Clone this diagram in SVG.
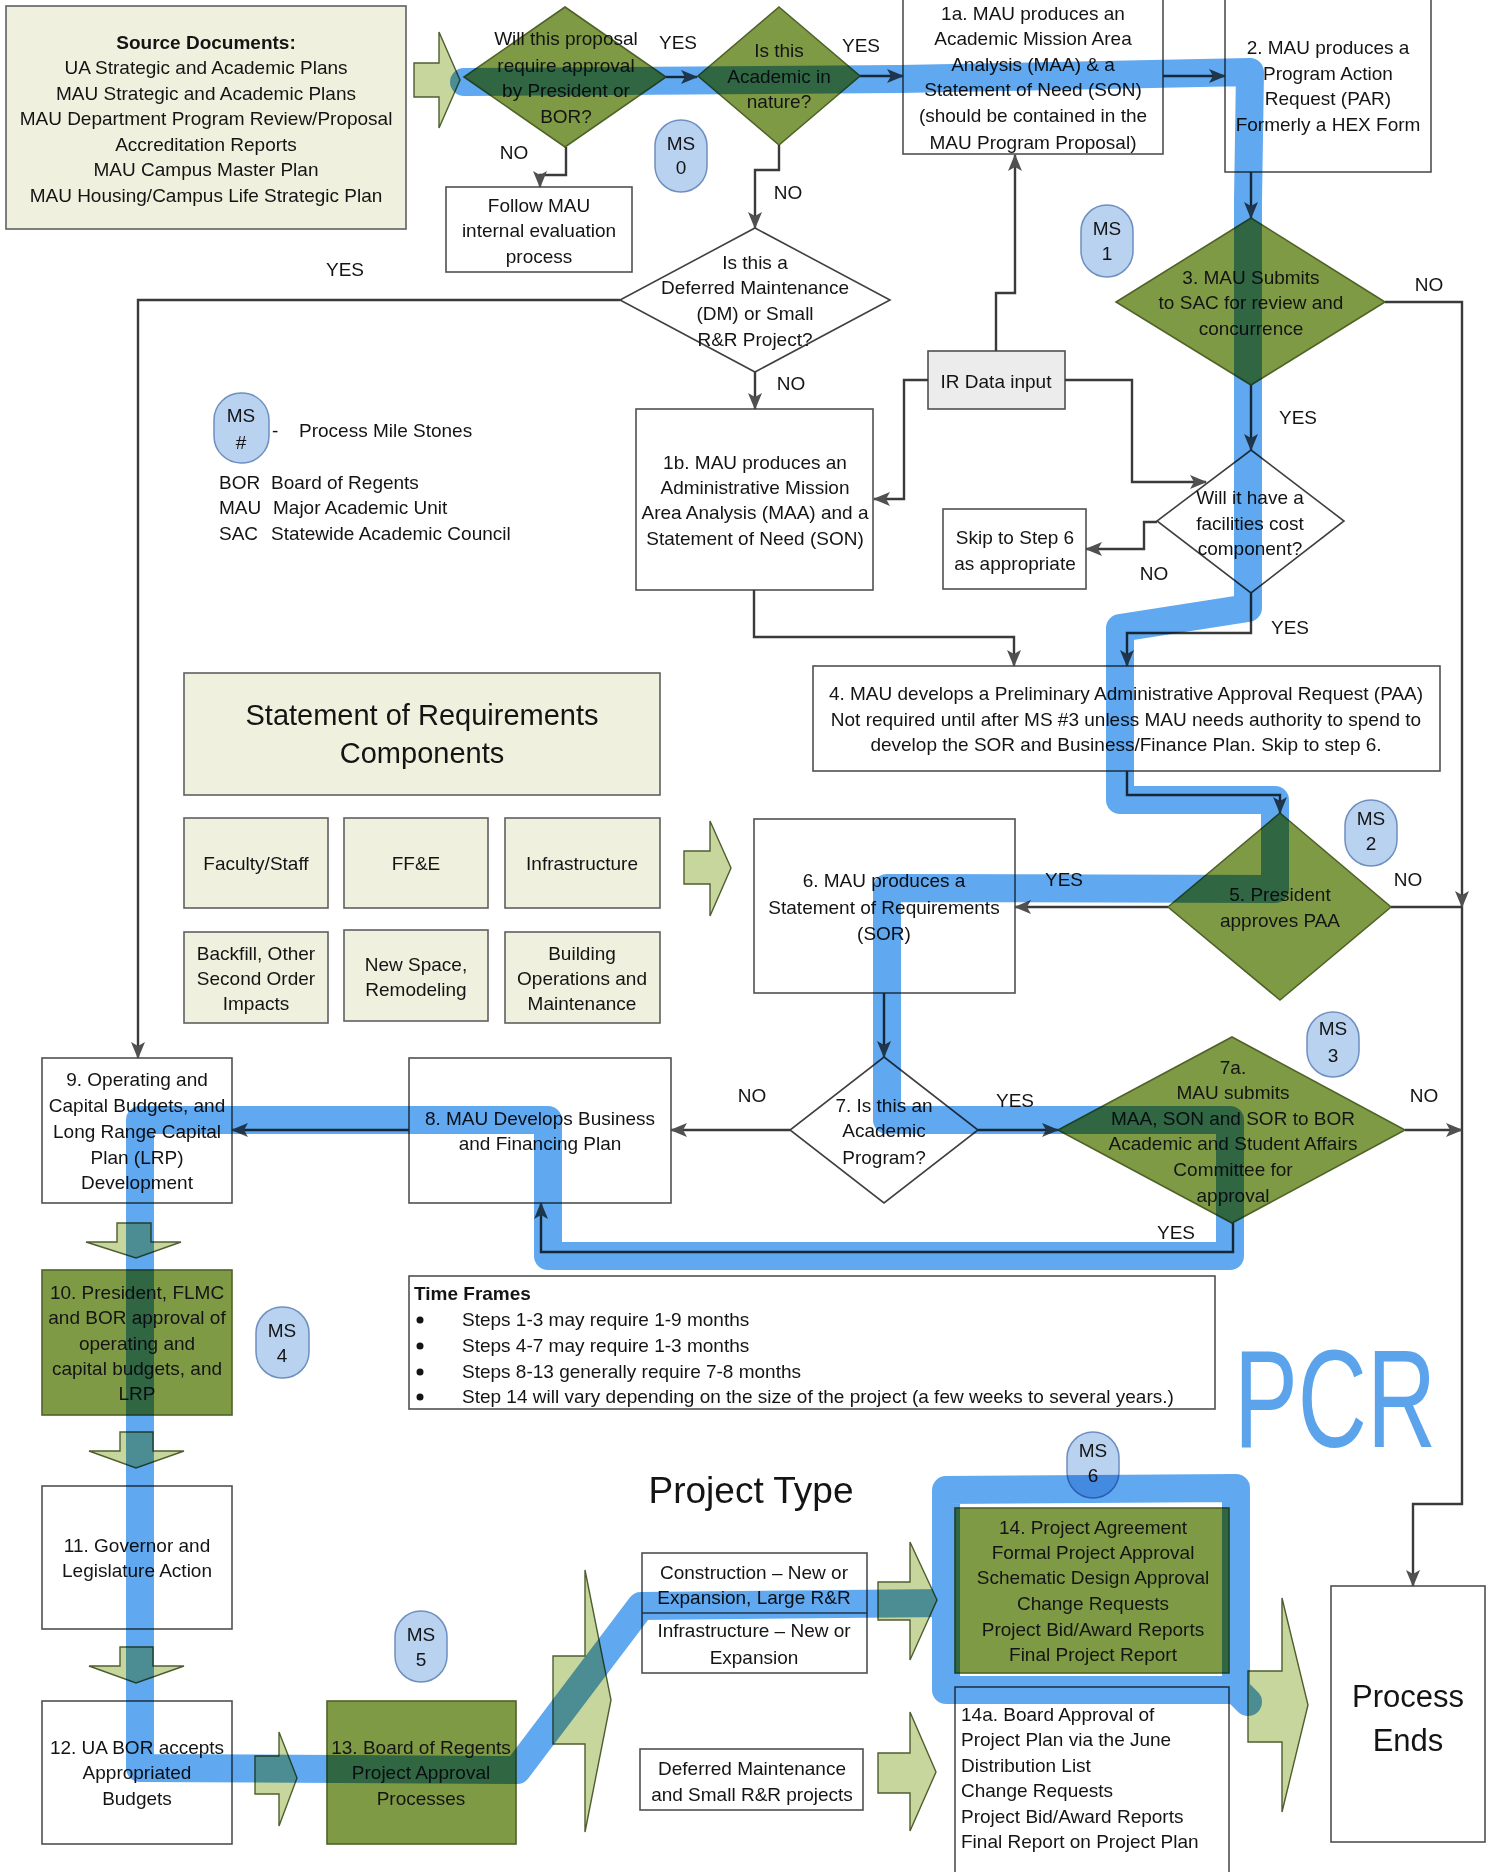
<svg xmlns="http://www.w3.org/2000/svg" width="1496" height="1872" viewBox="0 0 1496 1872">
<defs>
<style>
.t{font-family:"Liberation Sans",Arial,sans-serif;font-size:19px;fill:#141414;text-anchor:middle}
.tl{font-family:"Liberation Sans",Arial,sans-serif;font-size:19px;fill:#141414;text-anchor:start}
.lbl{font-family:"Liberation Sans",Arial,sans-serif;font-size:19px;fill:#141414;text-anchor:middle}
.big{font-family:"Liberation Sans",Arial,sans-serif;font-size:29px;fill:#141414;text-anchor:middle}
.box{fill:#ffffff;stroke:#505050;stroke-width:1.6}
.gray{fill:#ececec;stroke:#505050;stroke-width:1.6}
.beige{fill:#eff0dd;stroke:#606060;stroke-width:1.6}
.olive{fill:#7f9a45;stroke:#4f6228;stroke-width:1.6}
.wd{fill:#ffffff;stroke:#404040;stroke-width:1.6}
.pill{fill:#b8d2f0;stroke:#6f8fbf;stroke-width:1.5}
.ga{fill:#c6d69c;stroke:#4f5e30;stroke-width:1.4}
.c{fill:none;stroke:#3a3a3a;stroke-width:2.4}
.hl{fill:none;stroke:#3d95ec;stroke-width:28;stroke-linejoin:round;stroke-linecap:round}
</style>
<marker id="ah" markerWidth="18" markerHeight="14" refX="16" refY="7" orient="auto" markerUnits="userSpaceOnUse">
<path d="M0,0 L17,7 L0,14 L4,7 z" fill="#505050"/>
</marker>
</defs>
<rect x="0" y="0" width="1496" height="1872" fill="#ffffff"/>

<!-- Source documents -->
<g id="source-docs">
<rect class="beige" x="6" y="6" width="400" height="223"/>
<text class="t" x="206" y="49" font-weight="bold">Source Documents:</text>
<text class="t" x="206" y="74">UA Strategic and Academic Plans</text>
<text class="t" x="206" y="100">MAU Strategic and Academic Plans</text>
<text class="t" x="206" y="125">MAU Department Program Review/Proposal</text>
<text class="t" x="206" y="151">Accreditation Reports</text>
<text class="t" x="206" y="176">MAU Campus Master Plan</text>
<text class="t" x="206" y="202">MAU Housing/Campus Life Strategic Plan</text>
</g>
<g id="arrow-source">
<polygon class="ga" points="414,63 439,63 439,32 460,80 439,128 439,97 414,97"/>
</g>

<g id="d-approval">
<polygon class="olive" points="565,7 666,77 565,147 464,77"/>
<text class="t" x="566" y="45">Will this proposal</text>
<text class="t" x="566" y="72">require approval</text>
<text class="t" x="566" y="97">by President or</text>
<text class="t" x="566" y="123">BOR?</text>
</g>

<g id="d-academic">
<polygon class="olive" points="779,7 860,76 779,145 698,76"/>
<text class="t" x="779" y="57">Is this</text>
<text class="t" x="779" y="83">Academic in</text>
<text class="t" x="779" y="108">nature?</text>
</g>

<g id="ms0">
<rect class="pill" x="655" y="120" width="52" height="72" rx="26"/>
<text class="t" x="681" y="150">MS</text>
<text class="t" x="681" y="174">0</text>
</g>

<g id="follow-mau">
<rect class="box" x="446" y="187" width="186" height="85"/>
<text class="t" x="539" y="212">Follow MAU</text>
<text class="t" x="539" y="237">internal evaluation</text>
<text class="t" x="539" y="263">process</text>
</g>

<g id="box-1a">
<rect class="box" x="903" y="-2" width="260" height="156"/>
<text class="t" x="1033" y="20">1a.  MAU produces an</text>
<text class="t" x="1033" y="45">Academic Mission Area</text>
<text class="t" x="1033" y="71">Analysis (MAA) &amp; a</text>
<text class="t" x="1033" y="96">Statement of Need (SON)</text>
<text class="t" x="1033" y="122">(should be contained in the</text>
<text class="t" x="1033" y="149">MAU Program Proposal)</text>
</g>

<g id="box-2">
<rect class="box" x="1225" y="-2" width="206" height="174"/>
<text class="t" x="1328" y="54">2.  MAU produces a</text>
<text class="t" x="1328" y="80">Program Action</text>
<text class="t" x="1328" y="105">Request (PAR)</text>
<text class="t" x="1328" y="131">Formerly a HEX Form</text>
</g>

<g id="ms1">
<rect class="pill" x="1081" y="205" width="52" height="72" rx="26"/>
<text class="t" x="1107" y="235">MS</text>
<text class="t" x="1107" y="260">1</text>
</g>

<g id="d-sac">
<polygon class="olive" points="1251,218 1385,302 1251,385 1116,302"/>
<text class="t" x="1251" y="284">3. MAU Submits</text>
<text class="t" x="1251" y="309">to SAC for review and</text>
<text class="t" x="1251" y="335">concurrence</text>
</g>

<g id="d-dm">
<polygon class="wd" points="755,228 890,300 755,372 620,300"/>
<text class="t" x="755" y="269">Is this a</text>
<text class="t" x="755" y="294">Deferred Maintenance</text>
<text class="t" x="755" y="320">(DM) or Small</text>
<text class="t" x="755" y="346">R&amp;R Project?</text>
</g>

<g id="legend">
<rect class="pill" x="214" y="393" width="55" height="70" rx="27"/>
<text class="t" x="241" y="422">MS</text>
<text class="t" x="241" y="449">#</text>
<text class="tl" x="272" y="437">-</text>
<text class="tl" x="299" y="437">Process Mile Stones</text>
<text class="tl" x="219" y="489">BOR</text>
<text class="tl" x="271" y="489">Board of Regents</text>
<text class="tl" x="219" y="514">MAU</text>
<text class="tl" x="273" y="514">Major Academic Unit</text>
<text class="tl" x="219" y="540">SAC</text>
<text class="tl" x="271" y="540">Statewide Academic Council</text>
</g>

<g id="box-1b">
<rect class="box" x="636" y="409" width="237" height="181" fill="#fbfbfb"/>
<text class="t" x="755" y="469">1b.  MAU produces an</text>
<text class="t" x="755" y="494">Administrative Mission</text>
<text class="t" x="755" y="519">Area Analysis (MAA) and a</text>
<text class="t" x="755" y="545">Statement of Need (SON)</text>
</g>

<g id="ir-data">
<rect class="gray" x="928" y="351" width="137" height="58"/>
<text class="t" x="996" y="388">IR Data input</text>
</g>

<g id="d-facilities">
<polygon class="wd" points="1251,450 1344,521 1251,593 1157,521"/>
<text class="t" x="1250" y="504">Will it have a</text>
<text class="t" x="1250" y="530">facilities cost</text>
<text class="t" x="1250" y="555">component?</text>
</g>

<g id="skip6">
<rect class="box" x="943" y="509" width="143" height="80"/>
<text class="t" x="1015" y="544">Skip to Step 6</text>
<text class="t" x="1015" y="570">as appropriate</text>
</g>

<g id="box-4">
<rect class="box" x="813" y="666" width="627" height="105"/>
<text class="t" x="1126" y="700">4. MAU develops a Preliminary Administrative Approval Request (PAA)</text>
<text class="t" x="1126" y="726">Not required until after MS #3 unless MAU needs authority to spend to</text>
<text class="t" x="1126" y="751">develop the SOR and Business/Finance Plan. Skip to step 6.</text>
</g>

<g id="sor-components">
<rect class="beige" x="184" y="673" width="476" height="122"/>
<text class="big" x="422" y="725">Statement of Requirements</text>
<text class="big" x="422" y="763">Components</text>
<rect class="beige" x="184" y="818" width="144" height="90"/>
<text class="t" x="256" y="870">Faculty/Staff</text>
<rect class="beige" x="344" y="818" width="144" height="90"/>
<text class="t" x="416" y="870">FF&amp;E</text>
<rect class="beige" x="505" y="818" width="155" height="90"/>
<text class="t" x="582" y="870">Infrastructure</text>
<rect class="beige" x="184" y="932" width="144" height="91"/>
<text class="t" x="256" y="960">Backfill, Other</text>
<text class="t" x="256" y="985">Second Order</text>
<text class="t" x="256" y="1010">Impacts</text>
<rect class="beige" x="344" y="930" width="144" height="91"/>
<text class="t" x="416" y="971">New Space,</text>
<text class="t" x="416" y="996">Remodeling</text>
<rect class="beige" x="505" y="932" width="155" height="91"/>
<text class="t" x="582" y="960">Building</text>
<text class="t" x="582" y="985">Operations and</text>
<text class="t" x="582" y="1010">Maintenance</text>
<polygon class="ga" points="684,851 710,851 710,821 731,868 710,916 710,884 684,884"/>
</g>

<g id="box-6">
<rect class="box" x="754" y="819" width="261" height="174"/>
<text class="t" x="884" y="887">6.  MAU produces a</text>
<text class="t" x="884" y="914">Statement of Requirements</text>
<text class="t" x="884" y="940">(SOR)</text>
</g>

<g id="d-president">
<polygon class="olive" points="1280,813 1391,907 1280,1000 1168,907"/>
<text class="t" x="1280" y="901">5. President</text>
<text class="t" x="1280" y="927">approves PAA</text>
</g>

<g id="ms2">
<rect class="pill" x="1345" y="800" width="52" height="66" rx="26"/>
<text class="t" x="1371" y="825">MS</text>
<text class="t" x="1371" y="850">2</text>
</g>

<g id="d-academic-program">
<polygon class="wd" points="884,1057 978,1130 884,1203 790,1130"/>
<text class="t" x="884" y="1112">7. Is this an</text>
<text class="t" x="884" y="1137">Academic</text>
<text class="t" x="884" y="1164">Program?</text>
</g>

<g id="d-7a">
<polygon class="olive" points="1232,1037 1405,1130 1232,1223 1058,1130"/>
<text class="t" x="1233" y="1074">7a.</text>
<text class="t" x="1233" y="1099">MAU submits</text>
<text class="t" x="1233" y="1125">MAA, SON and SOR to BOR</text>
<text class="t" x="1233" y="1150">Academic and Student Affairs</text>
<text class="t" x="1233" y="1176">Committee for</text>
<text class="t" x="1233" y="1202">approval</text>
</g>

<g id="ms3">
<rect class="pill" x="1307" y="1012" width="52" height="65" rx="26"/>
<text class="t" x="1333" y="1035">MS</text>
<text class="t" x="1333" y="1062">3</text>
</g>

<g id="box-8">
<rect class="box" x="409" y="1058" width="262" height="145"/>
<text class="t" x="540" y="1125">8. MAU Develops Business</text>
<text class="t" x="540" y="1150">and Financing Plan</text>
</g>

<g id="box-9">
<rect class="box" x="42" y="1058" width="190" height="145"/>
<text class="t" x="137" y="1086">9. Operating and</text>
<text class="t" x="137" y="1112">Capital Budgets, and</text>
<text class="t" x="137" y="1138">Long Range Capital</text>
<text class="t" x="137" y="1164">Plan (LRP)</text>
<text class="t" x="137" y="1189">Development</text>
</g>

<g id="arrow-9-10"><polygon class="ga" points="117,1223 151,1223 151,1242 181,1242 136,1258 86,1242 117,1242"/></g>

<g id="box-10">
<rect class="olive" x="42" y="1270" width="190" height="145"/>
<text class="t" x="137" y="1299">10. President, FLMC</text>
<text class="t" x="137" y="1324">and BOR approval of</text>
<text class="t" x="137" y="1350">operating and</text>
<text class="t" x="137" y="1375">capital budgets, and</text>
<text class="t" x="137" y="1400">LRP</text>
</g>

<g id="ms4">
<rect class="pill" x="256" y="1307" width="53" height="71" rx="26"/>
<text class="t" x="282" y="1337">MS</text>
<text class="t" x="282" y="1362">4</text>
</g>

<g id="arrow-10-11"><polygon class="ga" points="120,1432 153,1432 153,1451 184,1451 136,1468 89,1451 120,1451"/></g>

<g id="box-11">
<rect class="box" x="42" y="1486" width="190" height="143"/>
<text class="t" x="137" y="1552">11. Governor and</text>
<text class="t" x="137" y="1577">Legislature Action</text>
</g>

<g id="arrow-11-12"><polygon class="ga" points="120,1647 153,1647 153,1666 184,1666 136,1683 89,1666 120,1666"/></g>

<g id="box-12">
<rect class="box" x="42" y="1701" width="190" height="143"/>
<text class="t" x="137" y="1754">12. UA BOR accepts</text>
<text class="t" x="137" y="1779">Appropriated</text>
<text class="t" x="137" y="1805">Budgets</text>
</g>

<g id="arrow-12-13"><polygon class="ga" points="255,1756 279,1756 279,1732 297,1778 279,1826 279,1794 255,1794"/></g>

<g id="box-13">
<rect class="olive" x="327" y="1701" width="189" height="143"/>
<text class="t" x="421" y="1754">13. Board of Regents</text>
<text class="t" x="421" y="1779">Project Approval</text>
<text class="t" x="421" y="1805">Processes</text>
</g>

<g id="ms5">
<rect class="pill" x="395" y="1611" width="52" height="71" rx="26"/>
<text class="t" x="421" y="1641">MS</text>
<text class="t" x="421" y="1666">5</text>
</g>

<g id="arrow-13-types"><polygon class="ga" points="553,1656 585,1656 585,1570 611,1700 585,1832 585,1744 553,1744"/></g>

<g id="time-frames">
<rect class="box" x="409" y="1276" width="806" height="133"/>
<text class="tl" x="414" y="1300" font-weight="bold">Time Frames</text>
<circle cx="420" cy="1320" r="3.5" fill="#141414"/>
<circle cx="420" cy="1346" r="3.5" fill="#141414"/>
<circle cx="420" cy="1372" r="3.5" fill="#141414"/>
<circle cx="420" cy="1397" r="3.5" fill="#141414"/>
<text class="tl" x="462" y="1326">Steps 1-3 may require 1-9 months</text>
<text class="tl" x="462" y="1352">Steps 4-7 may require 1-3 months</text>
<text class="tl" x="462" y="1378">Steps 8-13 generally require 7-8 months</text>
<text class="tl" x="462" y="1403">Step 14 will vary depending on the size of the project (a few weeks to several years.)</text>
</g>

<g id="project-type-title">
<text x="751" y="1503" style="font-family:'Liberation Sans',Arial,sans-serif;font-size:37px;fill:#141414;text-anchor:middle">Project Type</text>
</g>

<g id="construction">
<rect class="box" x="642" y="1553" width="225" height="120"/>
<line x1="642" y1="1613" x2="867" y2="1613" stroke="#505050" stroke-width="1.6"/>
<text class="t" x="754" y="1579">Construction – New or</text>
<text class="t" x="754" y="1604">Expansion, Large R&amp;R</text>
<text class="t" x="754" y="1637">Infrastructure – New or</text>
<text class="t" x="754" y="1664">Expansion</text>
</g>

<g id="deferred">
<rect class="box" x="640" y="1749" width="223" height="61"/>
<text class="t" x="752" y="1775">Deferred Maintenance</text>
<text class="t" x="752" y="1801">and Small R&amp;R projects</text>
</g>

<g id="arrow-to-14"><polygon class="ga" points="878,1582 910,1582 910,1542 937,1600 910,1660 910,1620 878,1620"/></g>
<g id="arrow-to-14a"><polygon class="ga" points="878,1753 910,1753 910,1712 936,1772 910,1831 910,1793 878,1793"/></g>

<g id="box-14">
<rect class="olive" x="955" y="1508" width="274" height="165"/>
<text class="t" x="1093" y="1534">14. Project Agreement</text>
<text class="t" x="1093" y="1559">Formal Project Approval</text>
<text class="t" x="1093" y="1584">Schematic Design Approval</text>
<text class="t" x="1093" y="1610">Change Requests</text>
<text class="t" x="1093" y="1636">Project Bid/Award Reports</text>
<text class="t" x="1093" y="1661">Final Project Report</text>
</g>

<g id="ms6">
<rect class="pill" x="1067" y="1432" width="52" height="66" rx="26"/>
<text class="t" x="1093" y="1457">MS</text>
<text class="t" x="1093" y="1482">6</text>
</g>

<g id="box-14a">
<rect class="box" x="955" y="1687" width="274" height="200"/>
<text class="tl" x="961" y="1721">14a. Board Approval of</text>
<text class="tl" x="961" y="1746">Project Plan via the June</text>
<text class="tl" x="961" y="1772">Distribution List</text>
<text class="tl" x="961" y="1797">Change Requests</text>
<text class="tl" x="961" y="1823">Project Bid/Award Reports</text>
<text class="tl" x="961" y="1848">Final Report on Project Plan</text>
</g>

<g id="arrow-to-end"><polygon class="ga" points="1248,1671 1282,1671 1282,1598 1308,1705 1282,1812 1282,1742 1248,1742"/></g>

<g id="process-ends">
<rect class="box" x="1331" y="1586" width="154" height="256"/>
<text x="1408" y="1707" style="font-family:'Liberation Sans',Arial,sans-serif;font-size:31px;fill:#141414;text-anchor:middle">Process</text>
<text x="1408" y="1751" style="font-family:'Liberation Sans',Arial,sans-serif;font-size:31px;fill:#141414;text-anchor:middle">Ends</text>
</g>

<g id="connectors">
<path class="c" d="M666,77 L697,77" marker-end="url(#ah)"/>
<path class="c" d="M566,147 L566,175 L540,175 L540,187" marker-end="url(#ah)"/>
<path class="c" d="M860,76 L903,76" marker-end="url(#ah)"/>
<path class="c" d="M1163,76 L1225,76" marker-end="url(#ah)"/>
<path class="c" d="M1251,172 L1251,218" marker-end="url(#ah)"/>
<path class="c" d="M779,145 L779,170 L755,170 L755,228" marker-end="url(#ah)"/>
<path class="c" d="M620,300 L138,300 L138,1058" marker-end="url(#ah)"/>
<path class="c" d="M755,372 L755,409" marker-end="url(#ah)"/>
<path class="c" d="M996,351 L996,293 L1015,293 L1015,155" marker-end="url(#ah)"/>
<path class="c" d="M928,380 L904,380 L904,499 L874,499" marker-end="url(#ah)"/>
<path class="c" d="M1065,380 L1132,380 L1132,482 L1206,482" marker-end="url(#ah)"/>
<path class="c" d="M1385,302 L1462,302 L1462,907" marker-end="url(#ah)"/>
<path class="c" d="M1462,907 L1462,1504 L1413,1504 L1413,1586" marker-end="url(#ah)"/>
<path class="c" d="M1251,385 L1251,450" marker-end="url(#ah)"/>
<path class="c" d="M1157,522 L1144,522 L1144,549 L1086,549" marker-end="url(#ah)"/>
<path class="c" d="M1251,593 L1251,633 L1127,633 L1127,666" marker-end="url(#ah)"/>
<path class="c" d="M754,590 L754,637 L1014,637 L1014,666" marker-end="url(#ah)"/>
<path class="c" d="M1127,771 L1127,795 L1280,795 L1280,813" marker-end="url(#ah)"/>
<path class="c" d="M1168,907 L1015,907" marker-end="url(#ah)"/>
<path class="c" d="M1391,907 L1462,907"/>
<path class="c" d="M884,993 L884,1057" marker-end="url(#ah)"/>
<path class="c" d="M790,1130 L671,1130" marker-end="url(#ah)"/>
<path class="c" d="M978,1130 L1058,1130" marker-end="url(#ah)"/>
<path class="c" d="M1405,1130 L1462,1130" marker-end="url(#ah)"/>
<path class="c" d="M1233,1223 L1233,1252 L541,1252 L541,1203" marker-end="url(#ah)"/>
<path class="c" d="M409,1130 L232,1130" marker-end="url(#ah)"/>
</g>

<g id="connector-labels">
<text class="lbl" x="678" y="49">YES</text>
<text class="lbl" x="514" y="159">NO</text>
<text class="lbl" x="861" y="52">YES</text>
<text class="lbl" x="788" y="199">NO</text>
<text class="lbl" x="345" y="276">YES</text>
<text class="lbl" x="791" y="390">NO</text>
<text class="lbl" x="1429" y="291">NO</text>
<text class="lbl" x="1298" y="424">YES</text>
<text class="lbl" x="1154" y="580">NO</text>
<text class="lbl" x="1290" y="634">YES</text>
<text class="lbl" x="1064" y="886">YES</text>
<text class="lbl" x="1408" y="886">NO</text>
<text class="lbl" x="752" y="1102">NO</text>
<text class="lbl" x="1015" y="1107">YES</text>
<text class="lbl" x="1424" y="1102">NO</text>
<text class="lbl" x="1176" y="1239">YES</text>
</g>

<g id="highlight" style="mix-blend-mode:multiply" opacity="0.82">
<path class="hl" d="M464,82 L900,79 L1250,72 L1248,200 L1248,608 L1120,628 L1120,800 L1275,800 L1275,889 L887,888 L887,1120 L1230,1120 L1230,1256 L548,1256 L548,1120 L140,1120 L140,1768 L517,1770 L641,1606 L946,1603"/>
<path class="hl" d="M946,1603 L946,1490 L1236,1488 L1236,1690 L946,1690 L946,1603 M1236,1690 L1248,1702"/>
</g>

<g id="pcr" style="mix-blend-mode:multiply">
<text x="1234" y="1447" textLength="202" lengthAdjust="spacingAndGlyphs" style="font-family:'Liberation Sans',Arial,sans-serif;font-size:140px;fill:#4a9ae8;opacity:0.9">PCR</text>
</g>
</svg>
